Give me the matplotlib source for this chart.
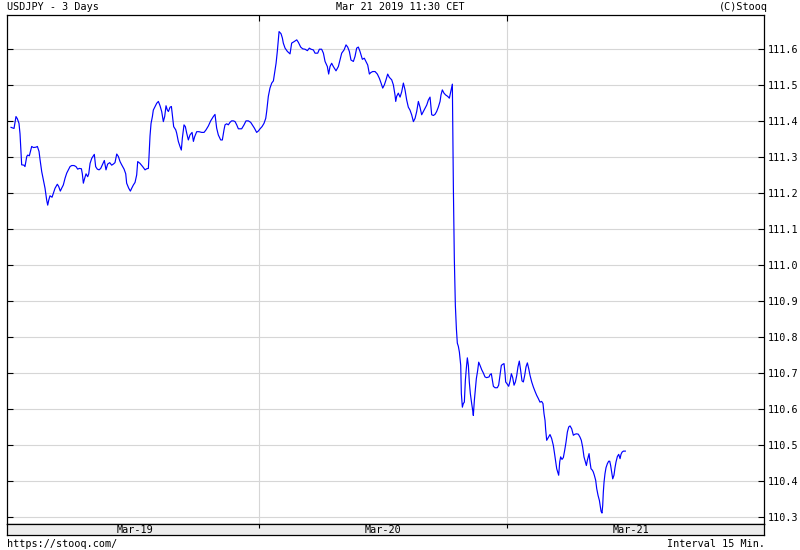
import matplotlib
matplotlib.use("Agg")
import matplotlib.pyplot as plt

plt.rcParams["font.family"] = ["DejaVu Sans Mono"]

# USDJPY, 15 min intervals, hours counted from Mar-19 00:00
hours = [
    0.00, 0.29, 0.48, 0.61, 0.77, 0.87, 0.97, 1.03, 1.26, 1.35, 1.52, 1.61, 1.77, 2.00, 2.16,
    2.42, 2.55, 2.71, 2.81, 2.97, 3.13, 3.29, 3.45, 3.55, 3.65, 3.77, 3.97, 4.10, 4.26, 4.48,
    4.61, 4.77, 4.90, 5.06, 5.23, 5.39, 5.55, 5.71, 5.87, 6.10, 6.29, 6.45, 6.61, 6.81, 6.90,
    7.00, 7.10, 7.26, 7.42, 7.52, 7.65, 7.81, 7.97, 8.06, 8.19, 8.35, 8.52, 8.68, 8.84, 9.03,
    9.19, 9.35, 9.55, 9.74, 9.90, 10.06, 10.23, 10.39, 10.55, 10.71, 10.94, 11.10, 11.19, 11.39,
    11.55, 11.68, 11.84, 12.00, 12.16, 12.26, 12.48, 12.74, 12.97, 13.13, 13.29, 13.35, 13.45,
    13.55, 13.68, 13.77, 13.94, 14.10, 14.26, 14.42, 14.58, 14.74, 14.87, 15.00, 15.13, 15.23,
    15.39, 15.52, 15.65, 15.74, 15.94, 16.03, 16.19, 16.35, 16.48, 16.58, 16.74, 16.87, 17.00,
    17.16, 17.32, 17.52, 17.65, 17.77, 17.97, 18.19, 18.45, 18.68, 18.87, 19.10, 19.32, 19.58,
    19.74, 19.90, 20.06, 20.29, 20.45, 20.61, 20.71, 20.87, 21.03, 21.19, 21.35, 21.52, 21.68,
    21.84, 22.00, 22.32, 22.55, 22.74, 22.97, 23.19, 23.35, 23.55, 23.77, 23.94, 24.10, 24.29,
    24.48, 24.65, 24.74, 24.90, 25.06, 25.23, 25.39, 25.48, 25.65, 25.77, 25.94,
    26.13, 26.26, 26.35, 26.52, 26.74, 27.00, 27.16, 27.39, 27.65, 27.81, 28.03, 28.23, 28.45,
    28.68, 28.87, 29.03, 29.26, 29.42, 29.68, 29.84, 30.06, 30.23, 30.39, 30.61, 30.74, 30.87,
    31.03, 31.19, 31.45, 31.68, 31.84, 32.00, 32.23, 32.42, 32.58, 32.74, 32.90, 33.13, 33.29,
    33.45, 33.61, 33.77, 34.00, 34.19, 34.35, 34.52, 34.68, 34.81, 35.00, 35.23, 35.45, 35.65,
    35.81, 35.97, 36.13, 36.29, 36.45, 36.61, 36.84, 37.00, 37.16, 37.23, 37.32, 37.48, 37.65,
    37.81, 37.97, 38.13, 38.29, 38.45, 38.61, 38.77, 38.94, 39.10, 39.26, 39.42, 39.58, 39.74,
    39.90, 40.06, 40.23, 40.39, 40.55, 40.71, 40.87, 41.03, 41.19, 41.35, 41.52, 41.61, 41.74,
    41.90, 42.06, 42.26, 42.42, 42.55, 42.68,
    42.71, 42.74, 42.81, 42.90, 43.00, 43.10, 43.19, 43.29, 43.39, 43.52, 43.58, 43.68, 43.77,
    43.87, 43.97, 44.06, 44.16, 44.26, 44.35, 44.45, 44.58, 44.68, 44.74, 44.84, 44.94, 45.03,
    45.16, 45.26, 45.39, 45.55, 45.71, 45.87, 46.03, 46.26, 46.35, 46.48, 46.58, 46.68, 46.84,
    47.06, 47.19, 47.32, 47.45, 47.58, 47.71, 47.81, 47.87, 48.00, 48.16, 48.29, 48.42, 48.55,
    48.68, 48.81, 48.94, 49.06, 49.19, 49.32, 49.45, 49.58, 49.71, 49.84, 49.97, 50.10, 50.23,
    50.39, 50.55, 50.71, 50.87, 51.03, 51.19, 51.35, 51.48, 51.58, 51.68,
    51.74, 51.84, 51.94, 52.06, 52.16, 52.32, 52.48, 52.58, 52.71, 52.81, 52.90, 53.00, 53.10,
    53.19, 53.32, 53.45, 53.58, 53.71, 53.84, 53.97, 54.10, 54.26, 54.42, 54.58, 54.74, 54.90,
    55.06, 55.19, 55.32, 55.45, 55.58, 55.68, 55.77, 55.87, 55.94, 56.03, 56.13, 56.26, 56.35,
    56.45, 56.58, 56.68, 56.81, 56.94, 57.03, 57.10, 57.19, 57.26, 57.32, 57.39, 57.48, 57.58,
    57.71, 57.84, 57.94, 58.03, 58.13, 58.23, 58.35, 58.45, 58.55, 58.68, 58.81, 58.94, 59.03,
    59.13, 59.26, 59.45,
]
prices = [
    111.383, 111.380, 111.413, 111.407, 111.394, 111.365, 111.311, 111.279, 111.278, 111.274,
    111.302, 111.306, 111.304, 111.330, 111.327, 111.328, 111.330, 111.316, 111.293, 111.260,
    111.237, 111.214, 111.181, 111.167, 111.181, 111.193, 111.189, 111.200, 111.214, 111.225,
    111.219, 111.206, 111.214, 111.223, 111.242, 111.256, 111.265, 111.274, 111.277, 111.277,
    111.274, 111.267, 111.269, 111.268, 111.254, 111.228, 111.239, 111.254, 111.246, 111.254,
    111.283, 111.297, 111.304, 111.308, 111.274, 111.267, 111.265, 111.269, 111.279, 111.291,
    111.265, 111.281, 111.285, 111.278, 111.281, 111.285, 111.309, 111.302, 111.288, 111.279,
    111.267, 111.254, 111.228, 111.214, 111.206, 111.214, 111.223, 111.230, 111.251, 111.288,
    111.283, 111.274, 111.265, 111.268, 111.269, 111.300, 111.359, 111.394, 111.413, 111.431,
    111.441, 111.450, 111.455, 111.443, 111.427, 111.399, 111.413, 111.443, 111.431, 111.427,
    111.439, 111.441, 111.408, 111.385, 111.376, 111.367, 111.344, 111.330, 111.320, 111.353,
    111.390, 111.385, 111.367, 111.348, 111.362, 111.369, 111.344, 111.357, 111.371, 111.371,
    111.369, 111.369, 111.376, 111.387, 111.401, 111.413, 111.419, 111.381, 111.362, 111.348,
    111.348, 111.376, 111.390, 111.393, 111.390, 111.397, 111.401, 111.401, 111.399, 111.390,
    111.379, 111.379, 111.390, 111.401, 111.401, 111.397, 111.390, 111.381, 111.369, 111.373,
    111.379, 111.385, 111.394, 111.408, 111.427, 111.469, 111.492, 111.506, 111.512, 111.529,
    111.561, 111.594, 111.649,
    111.643, 111.631, 111.617, 111.603, 111.594, 111.587, 111.617, 111.621, 111.626, 111.619,
    111.606, 111.601, 111.600, 111.596, 111.603, 111.600, 111.598, 111.589, 111.589, 111.600,
    111.600, 111.589, 111.566, 111.552, 111.531, 111.552, 111.561, 111.552, 111.540, 111.552,
    111.570, 111.589, 111.598, 111.612, 111.606, 111.594, 111.570, 111.566, 111.580, 111.603,
    111.606, 111.594, 111.572, 111.575, 111.566, 111.556, 111.531, 111.535, 111.538, 111.538,
    111.531, 111.519, 111.506, 111.492, 111.501, 111.515, 111.531, 111.522, 111.515, 111.501,
    111.473, 111.455, 111.469, 111.478, 111.467, 111.482, 111.506, 111.487, 111.459, 111.439,
    111.431, 111.418, 111.399, 111.408, 111.427, 111.455, 111.439, 111.418, 111.427, 111.436,
    111.445, 111.459, 111.467, 111.418, 111.416, 111.419, 111.427, 111.439, 111.455, 111.473,
    111.487, 111.478, 111.473, 111.469, 111.464, 111.482, 111.501,
    111.503, 111.407, 111.213, 111.019, 110.889, 110.824, 110.784, 110.775, 110.759, 110.722,
    110.644, 110.606, 110.616, 110.620, 110.681, 110.713, 110.743, 110.722, 110.676, 110.644,
    110.616, 110.597, 110.583, 110.625, 110.657, 110.685, 110.708, 110.731, 110.722, 110.710,
    110.701, 110.690, 110.688, 110.690, 110.696, 110.699, 110.681, 110.664, 110.660, 110.660,
    110.667, 110.694, 110.722, 110.725, 110.727, 110.699, 110.676, 110.671, 110.664, 110.678,
    110.699, 110.688, 110.667, 110.676, 110.694, 110.718, 110.734, 110.708, 110.679, 110.676,
    110.694, 110.718, 110.729, 110.713, 110.694, 110.676, 110.662, 110.650, 110.639, 110.630,
    110.620, 110.622, 110.616, 110.588, 110.569,
    110.544, 110.514, 110.519, 110.525, 110.530, 110.519, 110.500, 110.481, 110.454, 110.435,
    110.426, 110.417, 110.454, 110.468, 110.461, 110.466, 110.486, 110.509, 110.537, 110.551,
    110.554, 110.546, 110.528, 110.531, 110.532, 110.531, 110.523, 110.514, 110.495, 110.468,
    110.454, 110.444, 110.458, 110.469, 110.477, 110.454, 110.435, 110.431, 110.426, 110.417,
    110.403, 110.380, 110.361, 110.347, 110.329, 110.317, 110.312, 110.333, 110.370, 110.398,
    110.421, 110.438, 110.449, 110.456, 110.456, 110.444, 110.426, 110.407, 110.417, 110.438,
    110.454, 110.469, 110.475, 110.463, 110.475, 110.481, 110.484, 110.484,
]

day_edges = [24, 48]
day_centers = [12, 36, 60]
day_labels = ["Mar-19", "Mar-20", "Mar-21"]
y_ticks = [110.3, 110.4, 110.5, 110.6, 110.7, 110.8, 110.9, 111.0,
           111.1, 111.2, 111.3, 111.4, 111.5, 111.6]

W, H = 800, 550
fig = plt.figure(figsize=(W / 100, H / 100), dpi=100)
fig.patch.set_facecolor("white")

def px(x0, y0, x1, y1):
    # pixel box -> figure fraction box
    return [x0 / W, 1 - y1 / H, (x1 - x0) / W, (y1 - y0) / H]

ax = fig.add_axes(px(7, 15, 764, 523.5))
ax.plot(hours, prices, color="#0000ff", lw=0.85)
ax.set_xlim(-0.39, 72.87)
ax.set_ylim(110.283, 111.695)

ax.set_yticks(y_ticks)
ax.set_yticklabels([f"{v:.1f}" for v in y_ticks])
ax.set_xticks(day_edges)
ax.set_xticklabels([])
ax.grid(True, color="#d6d6d6", lw=0.8)
ax.set_axisbelow(True)
ax.tick_params(axis="y", which="both", left=True, right=True, labelleft=False,
               labelright=True, direction="in", length=4, width=0.8,
               labelsize=7.3, pad=3)
ax.tick_params(axis="x", top=True, bottom=False, direction="in", length=4, width=0.8)
for s in ax.spines.values():
    s.set_linewidth(0.9)

# date bar under the chart
bar = fig.add_axes(px(7, 523.5, 764, 535))
bar.set_facecolor("#ececec")
bar.set_xlim(ax.get_xlim())
bar.set_ylim(0, 1)
bar.set_yticks([])
bar.set_xticks(day_edges)
bar.set_xticklabels([])
bar.tick_params(axis="x", top=True, bottom=False, direction="in", length=3, width=0.8)
for s in bar.spines.values():
    s.set_linewidth(0.9)
for c, lab in zip(day_centers, day_labels):
    bar.text(c, 0.45, lab, ha="center", va="center", fontsize=7.3)

fig.text(7 / W, 1 - 7 / H, "USDJPY - 3 Days", ha="left", va="center", fontsize=7.3)
fig.text(400 / W, 1 - 7 / H, "Mar 21 2019 11:30 CET", ha="center", va="center", fontsize=7.3)
fig.text(768 / W, 1 - 7 / H, "(C)Stooq", ha="right", va="center", fontsize=7.3)
fig.text(7 / W, 1 - 544 / H, "https://stooq.com/", ha="left", va="center", fontsize=7.3)
fig.text(765 / W, 1 - 544 / H, "Interval 15 Min.", ha="right", va="center", fontsize=7.3)

fig.savefig("out.png", dpi=100)
